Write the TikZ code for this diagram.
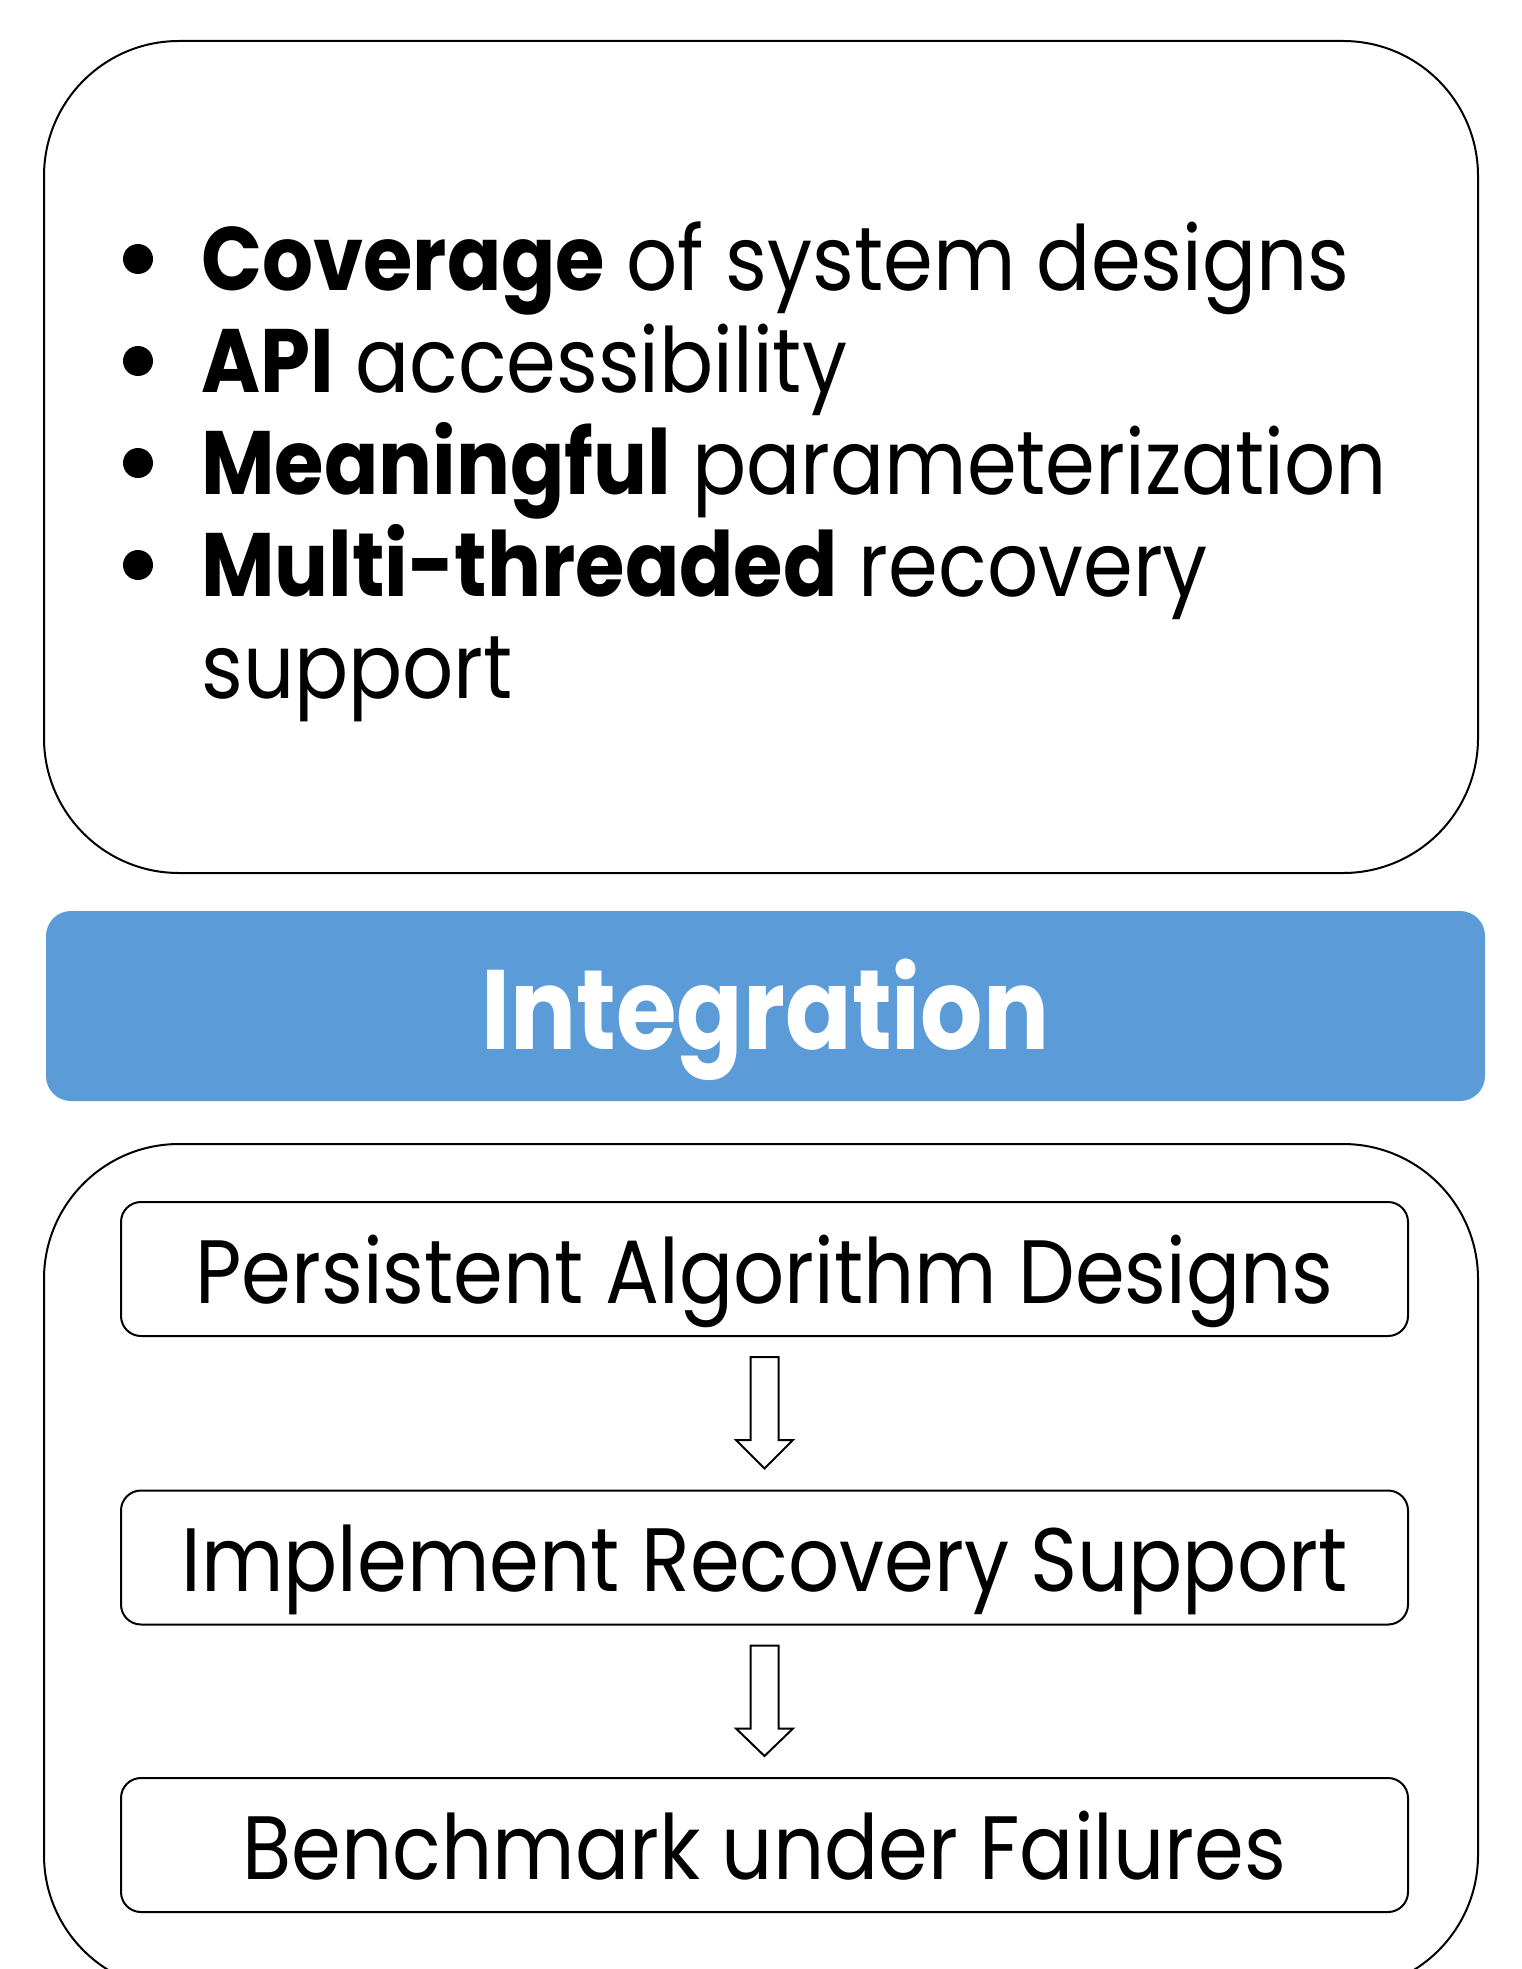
\documentclass[tikz,border=0pt]{standalone}
\usepackage{fontspec}
\setmainfont{Poppins}[FakeStretch=0.89]
\usetikzlibrary{calc}
\definecolor{intblue}{RGB}{90,155,216}
\newcommand\blockarrow[2]{%
  \draw[line width=2pt,line join=miter]
    ($(#1.south)+(-14,20)$) -- ($(#1.south)+(-14,103)$) -- ($(#1.south)+(-28.5,103)$)
    -- ($(#2.north)+(0,-21)$) -- ($(#1.south)+(28.5,103)$) -- ($(#1.south)+(14,103)$)
    -- ($(#1.south)+(14,20)$) -- cycle;}
\begin{document}
\begin{tikzpicture}[x=1pt,y=-1pt,
  bigbox/.style={draw=black,line width=2pt,rounded corners=135pt,minimum width=1434pt,inner sep=0pt},
  stepbox/.style={draw=black,line width=2pt,rounded corners=20pt,minimum width=1287pt,minimum height=134pt,inner sep=0pt,
    text height=68pt,text depth=0pt,font=\fontsize{90}{100}\selectfont},
  listtxt/.style={anchor=base west,inner sep=0pt,font=\fontsize{90}{100}\selectfont},
  dot/.style={circle,fill=black,minimum size=30pt,inner sep=0pt}]
\clip (0,0) rectangle (1521,1969);
\fill[white] (0,0) rectangle (1521,1969);
% top box
\node[bigbox,minimum height=832pt] (top) at (761,457) {};
\node[dot] (d1) at (138,259) {};
\node[dot] (d2) at (138,361) {};
\node[dot] (d3) at (138,463) {};
\node[dot] (d4) at (138,565) {};
\node[listtxt] (l1) at (201,290) {\textbf{Coverage} of system designs};
\node[listtxt] (l2) at (201,392) {\textbf{API} accessibility};
\node[listtxt] (l3) at (201,494) {\textbf{Meaningful} parameterization};
\node[listtxt] (l4) at (201,596) {\textbf{Multi-threaded} recovery};
\node[listtxt] (l5) at (201,698) {support};
% integration bar
\node[fill=intblue,rounded corners=25pt,minimum width=1439pt,minimum height=190pt,inner sep=0pt,
  text height=86pt,text depth=0pt,text=white,font=\fontsize{113}{120}\selectfont\bfseries] (int) at (765.5,1006) {\scalebox{0.975}[1]{Integration}};
% bottom box
\node[bigbox,minimum height=846pt] (bot) at (761,1567) {};
\node[stepbox] (s1) at (764.5,1269) {Persistent Algorithm Designs};
\node[stepbox] (s2) at (764.5,1557.5) {Implement Recovery Support};
\node[stepbox] (s3) at (764.5,1845) {Benchmark under Failures};
\blockarrow{s1}{s2}
\blockarrow{s2}{s3}
\end{tikzpicture}
\end{document}
